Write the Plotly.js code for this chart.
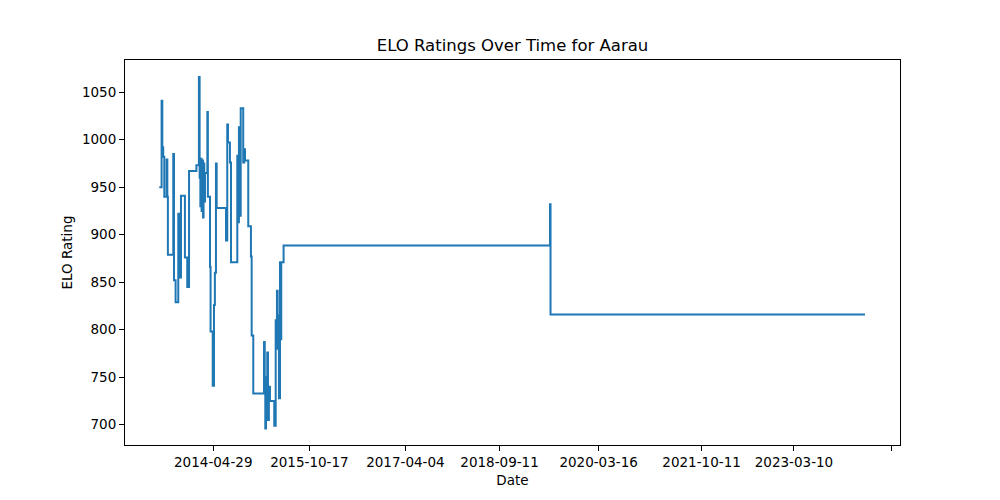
<!DOCTYPE html>
<html>
<head>
<meta charset="utf-8">
<script src="https://cdn.plot.ly/plotly-3.0.1.min.js"></script>
<style>
  html, body { margin: 0; padding: 0; background: #fff; }
  #chart { width: 1000px; height: 500px; }
</style>
</head>
<body>
<div id="chart"></div>
<script>
// step points of the rating series
const dates = [
  "2013-07-02", "2013-07-15", "2013-07-19", "2013-07-24", "2013-07-30",
  "2013-08-12", "2013-08-16", "2013-08-19", "2013-09-18", "2013-09-22",
  "2013-10-01", "2013-10-16", "2013-10-20", "2013-10-24", "2013-10-27",
  "2013-10-31", "2013-11-22", "2013-12-05", "2013-12-15", "2014-01-25",
  "2014-02-08", "2014-02-12", "2014-02-16", "2014-02-19", "2014-02-23",
  "2014-02-27", "2014-03-03", "2014-03-06", "2014-03-10", "2014-03-14",
  "2014-03-27", "2014-03-30", "2014-04-11", "2014-04-14", "2014-04-26",
  "2014-05-03", "2014-05-08", "2014-05-14", "2014-05-18", "2014-07-09",
  "2014-07-16", "2014-07-20", "2014-07-31", "2014-08-06", "2014-09-10",
  "2014-09-15", "2014-09-19", "2014-09-25", "2014-09-29", "2014-10-13",
  "2014-10-19", "2014-10-23", "2014-11-10", "2014-11-25", "2014-11-29",
  "2014-12-08", "2015-02-06", "2015-02-10", "2015-02-13", "2015-02-17",
  "2015-02-21", "2015-02-24", "2015-02-28", "2015-03-05", "2015-03-11",
  "2015-04-04", "2015-04-12", "2015-04-15", "2015-04-19", "2015-04-23",
  "2015-04-26", "2015-04-30", "2015-05-06", "2015-05-10", "2015-05-13",
  "2015-05-26", "2019-06-19", "2019-06-22", "2024-04-09"
];
const elo = [
  950, 1041, 992, 982, 940,
  979, 940, 879, 985, 852,
  829, 922, 870, 915, 855,
  941, 876, 845, 967, 973,
  1066, 960, 930, 980, 925,
  978, 918, 975, 935, 965,
  1029, 940, 866, 798, 741,
  826, 860, 975, 928, 894,
  1016, 997, 976, 871, 983,
  913, 1013, 920, 1033, 976,
  990, 978, 909, 877, 794,
  733, 787, 750, 696, 750,
  706, 776, 705, 740, 725,
  699, 810, 790, 841, 780,
  815, 728, 871, 790, 871,
  888.7, 932, 816, 816
];

const tickDates = ["2014-04-29", "2015-10-17", "2017-04-04", "2018-09-11",
  "2020-03-16", "2021-10-11", "2023-03-10", "2024-09-05"];
const tickLabels = ["2014-04-29", "2015-10-17", "2017-04-04", "2018-09-11",
  "2020-03-16", "2021-10-11", "2023-03-10", ""];

const font = "DejaVu Sans, sans-serif";

const trace = {
  type: "scatter",
  mode: "lines",
  x: dates,
  y: elo,
  line: { color: "#1f77b4", width: 2, shape: "hv" },
  hoverinfo: "x+y"
};

const axisStyle = {
  showline: true,
  linecolor: "#000",
  linewidth: 1,
  mirror: true,
  showgrid: false,
  zeroline: false,
  ticks: "outside",
  ticklen: 5,
  tickwidth: 1,
  tickcolor: "#000",
  tickfont: { family: font, size: 13.5, color: "#000" }
};

const layout = {
  width: 1000,
  height: 500,
  margin: { l: 125, r: 100, t: 60, b: 55 },
  paper_bgcolor: "#fff",
  plot_bgcolor: "#fff",
  showlegend: false,
  title: {
    text: "ELO Ratings Over Time for Aarau",
    font: { family: font, size: 16.5, color: "#000" },
    x: 0.5125,
    xanchor: "center",
    y: 0.91,
    yanchor: "middle"
  },
  xaxis: Object.assign({}, axisStyle, {
    type: "date",
    range: ["2012-12-23", "2024-10-21"],
    tickmode: "array",
    tickvals: tickDates,
    ticktext: tickLabels,
    title: { text: "Date", font: { family: font, size: 13.5, color: "#000" }, standoff: 6 }
  }),
  yaxis: Object.assign({}, axisStyle, {
    range: [678.7, 1083.8],
    tickmode: "array",
    tickvals: [700, 750, 800, 850, 900, 950, 1000, 1050],
    title: { text: "ELO Rating", font: { family: font, size: 13.5, color: "#000" }, standoff: 6 }
  })
};

Plotly.newPlot("chart", [trace], layout, { displayModeBar: false, staticPlot: true });
</script>
</body>
</html>
